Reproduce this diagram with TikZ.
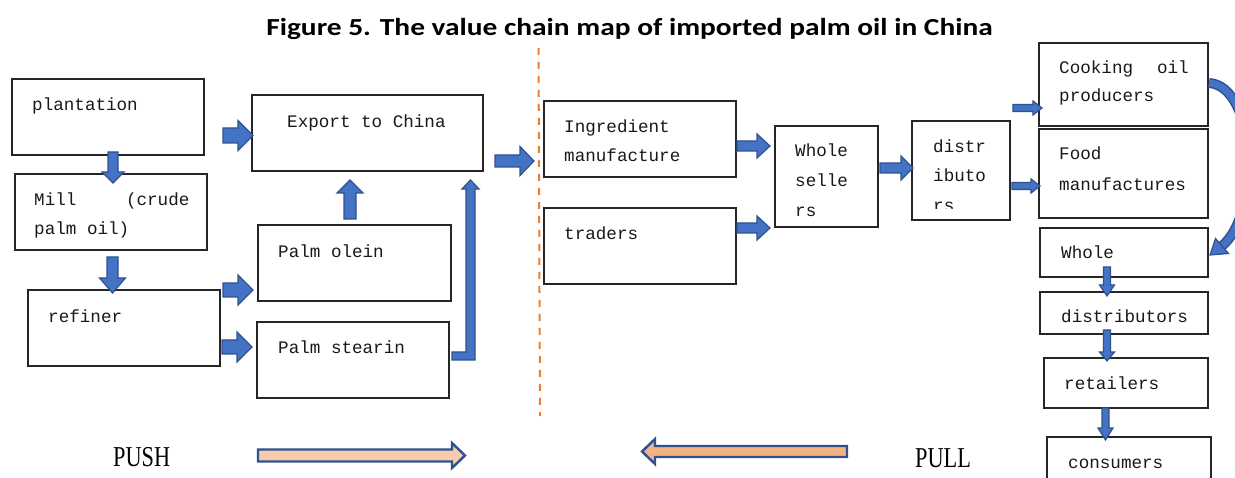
\documentclass[tikz,border=0pt]{standalone}
\usepackage{fontspec}
\setmainfont{Liberation Serif}
\newfontfamily\boxfont{Liberation Mono}
\newfontfamily\ttlfont{Carlito}
\usetikzlibrary{fit}
\definecolor{blueF}{HTML}{4472C4}
\definecolor{blueB}{HTML}{2F528F}
\definecolor{dashor}{HTML}{ED7D31}
\definecolor{pushF}{HTML}{F8CBAD}
\definecolor{pullF}{HTML}{F4B183}
% horizontal block arrow: x1, x2 (tip), yc, shaft half, head half, head base x
\newcommand{\hbarrow}[6]{\draw[barrow] (#1,#3-#4) -- (#6,#3-#4) -- (#6,#3-#5) -- (#2,#3) -- (#6,#3+#5) -- (#6,#3+#4) -- (#1,#3+#4) -- cycle;}
% vertical block arrow: xc, y1, y2 (tip), shaft half, head half, head base y
\newcommand{\vbarrow}[6]{\draw[barrow] (#1-#4,#2) -- (#1-#4,#6) -- (#1-#5,#6) -- (#1,#3) -- (#1+#5,#6) -- (#1+#4,#6) -- (#1+#4,#2) -- cycle;}
\tikzset{
  box/.style={draw=black!85, line width=1.3pt, inner sep=0pt, outer sep=0pt},
  txt/.style={anchor=base west, inner sep=0pt, font=\boxfont\fontsize{17.6pt}{20pt}\selectfont, text=black!90},
  barrow/.style={draw=blueB, fill=blueF, line width=1.2pt, line join=miter},
  bigarrow/.style={draw=blueB, line width=2.4pt, line join=miter}
}
\begin{document}
\begin{tikzpicture}[x=1pt,y=-1pt]
\useasboundingbox (0,0) rectangle (1235,478);
\clip (0,0) rectangle (1235,478);
\fill[white] (0,0) rectangle (1235,478);

% title
\node[anchor=base, inner sep=0pt, font=\ttlfont\bfseries\fontsize{24.5pt}{27pt}\selectfont] (title) at (629.5,35.5) {\scalebox{1.2}[1]{Figure 5. The value chain map of imported palm oil in China}};

% dashed separator
\coordinate (dtop) at (538.5,48);
\coordinate (dbot) at (540,416);
\draw[dashor, line width=2pt, dash pattern=on 7pt off 7pt] (dtop) -- (dbot);

% left boxes
\node[box, fit={(12,79) (204,155)}] (plant) {};
\node[box, fit={(15,174) (207,250)}] (mill) {};
\node[box, fit={(28,290) (220,366)}] (refiner) {};
\node[box, fit={(252,95) (483,171)}] (export) {};
\node[box, fit={(258,225) (451,301)}] (olein) {};
\node[box, fit={(257,322) (449,398)}] (stearin) {};

\node[txt] (tplant) at (32,111) {plantation};
\node[txt] (tmill1) at (34,206) {Mill\hspace{49.6pt}(crude};
\node[txt] (tmill2) at (34,235) {palm oil)};
\node[txt] (tref) at (48,323) {refiner};
\node[txt] (texp) at (287,128) {Export to China};
\node[txt] (tole) at (278,258) {Palm olein};
\node[txt] (tste) at (278,354) {Palm stearin};

% right boxes
\node[box, fit={(544,101) (736,177)}] (ingred) {};
\node[box, fit={(544,208) (736,284)}] (traders) {};
\node[box, fit={(775,126) (878,227)}] (wsell) {};
\node[box, fit={(912,121) (1010,220)}] (distr) {};
\node[box, fit={(1039,43) (1208,126)}] (cook) {};
\node[box, fit={(1039,129) (1208,218)}] (food) {};
\node[box, fit={(1040,228) (1208,277)}] (whole) {};
\node[box, fit={(1040,292) (1208,334)}] (distr2) {};
\node[box, fit={(1044,358) (1208,408)}] (retail) {};
\node[box, fit={(1047,437) (1211,492)}] (consum) {};

\node[txt] (ting1) at (564,133) {Ingredient};
\node[txt] (ting2) at (564,162) {manufacture};
\node[txt] (ttra) at (564,240) {traders};
\node[txt] (tws1) at (795,157) {Whole};
\node[txt] (tws2) at (795,187) {selle};
\node[txt] (tws3) at (795,217) {rs};
\node[txt] (tdi1) at (933,153) {distr};
\node[txt] (tdi2) at (933,182) {ibuto};
\begin{scope}
\clip (913,121) rectangle (1009,208.5);
\node[txt] (tdi3) at (933,212) {rs};
\end{scope}
\node[txt] (tcook1) at (1059,74) {Cooking\hspace{24pt}oil};
\node[txt] (tcook2) at (1059,102) {producers};
\node[txt] (tfood1) at (1059,160) {Food};
\node[txt] (tfood2) at (1059,191) {manufactures};
\node[txt] (twhole) at (1061,259) {Whole};
\node[txt] (tdist2) at (1061,323) {distributors};
\node[txt] (tret) at (1064,390) {retailers};
\node[txt] (tcons) at (1068,468) {consumers};

% block arrows, left part
\hbarrow{223}{253}{135.5}{7.5}{15}{238}
\vbarrow{113}{152}{183}{5}{11}{172}
\vbarrow{112.5}{257}{293}{5.5}{13}{278}
\hbarrow{223}{253}{290}{7}{15}{238}
\hbarrow{222}{252}{347}{7}{15}{237}
\vbarrow{350}{219}{180}{6}{13}{193}
\draw[barrow] (452,352) -- (466,352) -- (466,189) -- (462,189) -- (470.5,180) -- (479,189) -- (475,189) -- (475,360) -- (452,360) -- cycle;
\hbarrow{495}{534}{161}{6}{14.5}{520}

% block arrows, right part
\hbarrow{737}{770}{146}{5}{12}{757}
\hbarrow{737}{770}{228}{5}{12}{757}
\hbarrow{880}{913}{168}{5}{12}{901}
\hbarrow{1013}{1042}{108}{3.5}{7}{1033}
\hbarrow{1012}{1040}{186}{3.5}{7}{1031}
\vbarrow{1107}{267}{296}{3.5}{7.5}{285}
\vbarrow{1107}{330}{361}{3.5}{7.5}{352}
\vbarrow{1105.5}{408}{440}{3.5}{7.5}{428}

% curved arrow from cooking oil producers to whole
\coordinate (cs) at (1209,83);
\coordinate (ce) at (1222,246);
\draw[blueB, line width=10pt] (cs) .. controls (1256,86) and (1262,212) .. (ce);
\draw[blueF, line width=7pt] (cs) .. controls (1256,86) and (1262,212) .. (ce);
\draw[barrow] (1215.5,238.5) -- (1210,255) -- (1228.5,253.5) -- cycle;

% PUSH / PULL
\node[anchor=base west, inner sep=0pt, font=\fontsize{28.8pt}{30pt}\selectfont] (push) at (113,466) {\scalebox{0.775}[1]{PUSH}};
\node[anchor=base west, inner sep=0pt, font=\fontsize{28.8pt}{30pt}\selectfont] (pull) at (915,467) {\scalebox{0.775}[1]{PULL}};
\draw[bigarrow, fill=pushF] (258,449.5) -- (452,449.5) -- (452,443) -- (465,455.5) -- (452,468) -- (452,461.5) -- (258,461.5) -- cycle;
\draw[bigarrow, fill=pullF] (847,446) -- (655,446) -- (655,439) -- (642,451.5) -- (655,464) -- (655,457) -- (847,457) -- cycle;
\end{tikzpicture}
\end{document}
